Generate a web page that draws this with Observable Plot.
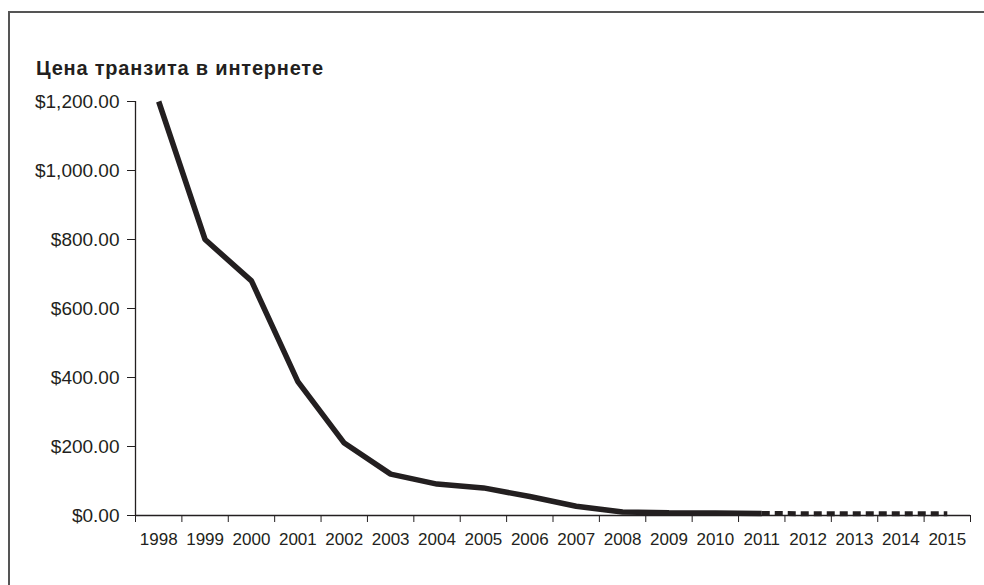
<!DOCTYPE html>
<html>
<head>
<meta charset="utf-8">
<script src="https://cdn.jsdelivr.net/npm/d3@7"></script>
<script src="https://cdn.jsdelivr.net/npm/@observablehq/plot@0.6"></script>
<style>
  html, body { margin: 0; padding: 0; background: #fff; }
  body { width: 984px; height: 585px; position: relative; overflow: hidden; font-family: "Liberation Sans", Arial, Helvetica, sans-serif; }
  #frame { position: absolute; left: 8px; top: 11px; width: 990px; height: 600px; border-left: 2px solid #555; border-top: 2px solid #555; box-sizing: border-box; }
  #title { position: absolute; left: 36px; top: 57px; font-size: 20px; line-height: 22px; letter-spacing: 0.8px; font-weight: bold; color: #231f20; white-space: nowrap; }
  #chart { position: absolute; left: 0; top: 85px; }
  #chart svg { background: transparent; }
</style>
</head>
<body>
<div id="frame"></div>
<div id="title">Цена транзита в интернете</div>
<div id="chart"></div>
<script>
// Data
const years = [1998, 1999, 2000, 2001, 2002, 2003, 2004, 2005, 2006, 2007, 2008, 2009, 2010, 2011, 2012, 2013, 2014, 2015];
const actualYears = [1998, 1999, 2000, 2001, 2002, 2003, 2004, 2005, 2006, 2007, 2008, 2009, 2010, 2011];
const actualPrices = [1200, 800, 680, 388, 210, 120, 91, 80, 55, 27, 10, 8, 7, 6];
const forecastYears = [2011, 2012, 2013, 2014, 2015];
const forecastPrices = [6, 5, 5, 5, 5];
const yTicks = [0, 200, 400, 600, 800, 1000, 1200];

const actual = actualYears.map((y, i) => ({year: y, price: actualPrices[i]}));
const forecast = forecastYears.map((y, i) => ({year: y, price: forecastPrices[i]}));
const boundaries = years.map(y => y - 0.5).concat([years[years.length - 1] + 0.5]);

const chart = Plot.plot({
  width: 984,
  height: 500,
  marginLeft: 135,
  marginRight: 14,
  marginTop: 16,
  marginBottom: 70,
  style: {fontFamily: '"Liberation Sans", Arial, Helvetica, sans-serif', fontSize: "19px", color: "#231f20", background: "transparent"},
  x: {domain: [boundaries[0], boundaries[boundaries.length - 1]], ticks: boundaries, tickFormat: () => "", tickSize: 7, label: null},
  y: {domain: [0, 1200], ticks: yTicks, tickFormat: d3.format("$,.2f"), tickSize: 8, tickPadding: 8, label: null},
  marks: [
    Plot.ruleY([0], {stroke: "#231f20", strokeWidth: 1.3}),
    Plot.ruleX([boundaries[0]], {y1: 0, y2: 1200, stroke: "#231f20", strokeWidth: 1.3}),
    Plot.text(years, {x: d => d, y: 0, dy: 24, fontSize: 17, fill: "#231f20", text: d => String(d)}),
    Plot.line(actual, {x: "year", y: "price", stroke: "#231f20", strokeWidth: 5.5, strokeLinejoin: "miter", strokeLinecap: "butt"}),
    Plot.line(forecast, {x: "year", y: "price", stroke: "#231f20", strokeWidth: 5, strokeDasharray: "8,5", strokeLinecap: "butt"})
  ]
});
document.getElementById("chart").appendChild(chart);
</script>
</body>
</html>
